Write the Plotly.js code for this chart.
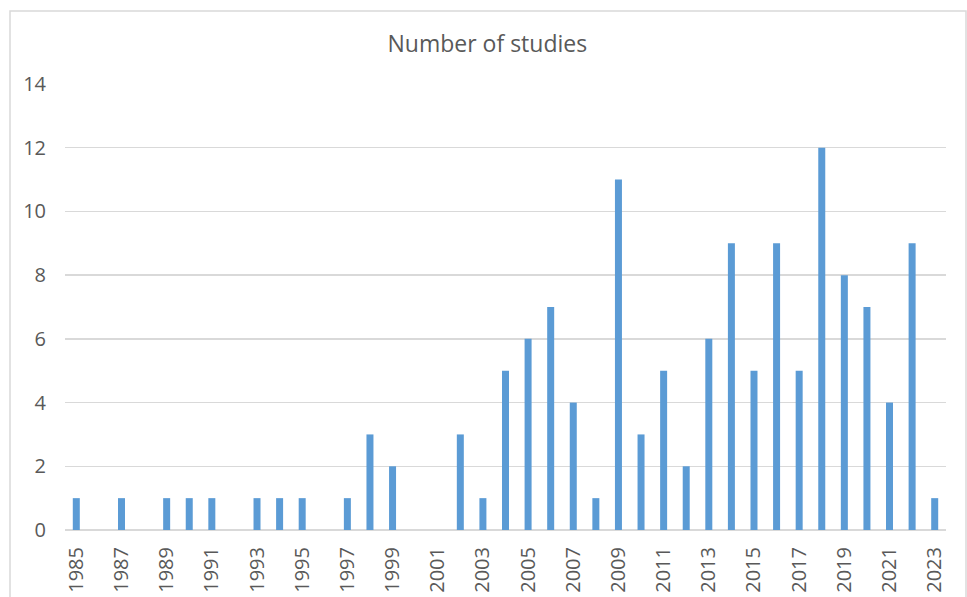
<!DOCTYPE html>
<html>
<head>
<meta charset="utf-8">
<script src="https://cdn.plot.ly/plotly-3.0.1.min.js"></script>
<style>
html,body{margin:0;padding:0;background:#fff;}
#chart{width:967px;height:597px;}
</style>
</head>
<body>
<div id="chart"></div>
<script>
const years = [1985,1986,1987,1988,1989,1990,1991,1992,1993,1994,1995,1996,1997,1998,1999,2000,2001,2002,2003,2004,2005,2006,2007,2008,2009,2010,2011,2012,2013,2014,2015,2016,2017,2018,2019,2020,2021,2022,2023];
const studies = [1,0,1,0,1,1,1,0,1,1,1,0,1,3,2,0,0,3,1,5,6,7,4,1,11,3,5,2,6,9,5,9,5,12,8,7,4,9,1];
const tickYears = [1985,1987,1989,1991,1993,1995,1997,1999,2001,2003,2005,2007,2009,2011,2013,2015,2017,2019,2021,2023];
const tickLabels = tickYears.map(String);
const yTicks = [0,2,4,6,8,10,12,14];

const fontFam = '"Open Sans", "Liberation Sans", sans-serif';
const trace = {
  type: 'bar',
  x: years,
  y: studies,
  width: 0.31,
  marker: {color: '#5b9bd5'},
  hoverinfo: 'x+y'
};

const layout = {
  width: 967,
  height: 597,
  margin: {l: 65, r: 21, t: 84, b: 67},
  paper_bgcolor: '#ffffff',
  plot_bgcolor: '#ffffff',
  showlegend: false,
  title: {
    text: 'Number of studies',
    font: {family: fontFam, size: 23, color: '#595959'},
    x: 0.504, xref: 'container', xanchor: 'center',
    y: 1 - 44/597, yref: 'container', yanchor: 'middle'
  },
  xaxis: {
    range: [1984.5, 2023.5],
    tickmode: 'array',
    tickvals: tickYears,
    ticktext: tickLabels,
    tickangle: -90,
    showgrid: false,
    zeroline: false,
    showline: false,
    ticks: '',
    ticklabelstandoff: 12,
    tickfont: {family: fontFam, size: 20, color: '#595959'},
    fixedrange: true
  },
  yaxis: {
    range: [0, 14],
    tickmode: 'array',
    tickvals: yTicks,
    ticktext: yTicks.map(String),
    showgrid: true,
    gridcolor: '#d9d9d9',
    gridwidth: 1.3,
    zeroline: true,
    zerolinecolor: '#d9d9d9',
    zerolinewidth: 1.3,
    showline: false,
    ticks: '',
    ticklabelstandoff: 18,
    tickfont: {family: fontFam, size: 20, color: '#595959'},
    fixedrange: true
  },
  shapes: [{
    type: 'rect',
    xref: 'paper', yref: 'paper',
    x0: (10 - 65) / 881, x1: (966 - 65) / 881,
    y0: -0.3, y1: (530 - 11) / 446,
    line: {color: '#d9d9d9', width: 1.5},
    fillcolor: 'rgba(0,0,0,0)',
    layer: 'below'
  }]
};

Plotly.newPlot('chart', [trace], layout, {displayModeBar: false, staticPlot: true});
</script>
</body>
</html>
